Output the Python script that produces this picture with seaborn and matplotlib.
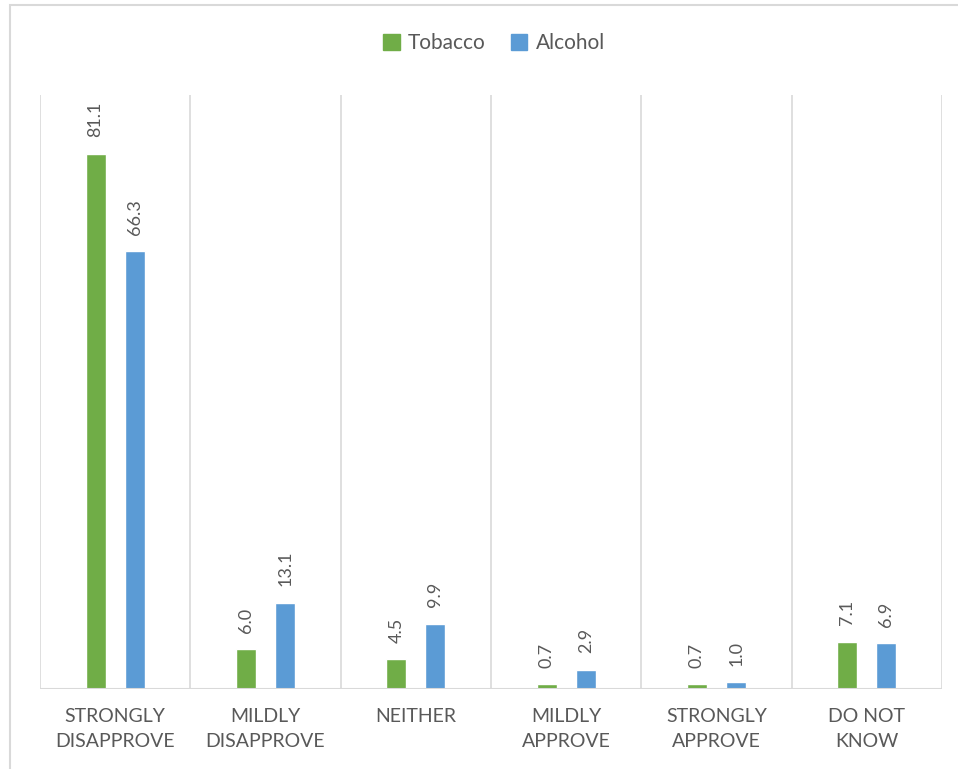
import matplotlib
matplotlib.use("Agg")
import matplotlib.pyplot as plt
import matplotlib.patches as mpatches
import seaborn as sns
import pandas as pd

categories = ["STRONGLY\nDISAPPROVE", "MILDLY\nDISAPPROVE", "NEITHER",
              "MILDLY\nAPPROVE", "STRONGLY\nAPPROVE", "DO NOT\nKNOW"]
tobacco = [81.1, 6.0, 4.5, 0.7, 0.7, 7.1]
alcohol = [66.3, 13.1, 9.9, 2.9, 1.0, 6.9]
series = ["Tobacco", "Alcohol"]
colors = ["#70AD47", "#5B9BD5"]

df = pd.DataFrame({
    "category": categories * 2,
    "value": tobacco + alcohol,
    "series": [series[0]] * len(categories) + [series[1]] * len(categories),
})

sns.set_theme(style="white")
plt.rcParams["font.family"] = ["Lato", "DejaVu Sans"]

fig = plt.figure(figsize=(9.58, 7.69), dpi=100)
ax = fig.add_axes([40 / 958, 80 / 769, 902 / 958, 594 / 769])

sns.barplot(data=df, x="category", y="value", hue="series", palette=colors,
            order=categories, hue_order=series, width=0.52, gap=0.49,
            saturation=1, ax=ax, legend=False)

ax.set_ylim(0, 90)
ax.set_xlim(-0.5, len(categories) - 0.5)
for b in range(len(categories) + 1):
    ax.axvline(b - 0.5, color="#D9D9D9", lw=1.2, zorder=0)
ax.axhline(0, color="#D9D9D9", lw=1.5, zorder=3)

for cont in ax.containers:
    ax.bar_label(cont, fmt="%.1f", rotation=90, padding=12, color="#595959", fontsize=13)

for s in ax.spines.values():
    s.set_visible(False)
ax.set_yticks([])
ax.set_xlabel("")
ax.set_ylabel("")
ax.tick_params(axis="x", length=0, pad=14, labelsize=14, labelcolor="#595959")
for lbl in ax.get_xticklabels():
    lbl.set_linespacing(1.55)

handles = [mpatches.Patch(color=c, label=s) for s, c in zip(series, colors)]
fig.legend(handles=handles, loc="center", bbox_to_anchor=(494 / 958, 1 - 43 / 769),
           ncol=2, frameon=False, fontsize=15, labelcolor="#595959",
           handlelength=0.8, handleheight=0.8, handletextpad=0.4, columnspacing=1.2)

border = mpatches.Rectangle((10 / 958, -0.1), 1.2, 1 - 5 / 769 + 0.1,
                            transform=fig.transFigure, fill=False,
                            edgecolor="#D9D9D9", lw=1.5)
fig.patches.append(border)

fig.savefig("out.png", dpi=100)
